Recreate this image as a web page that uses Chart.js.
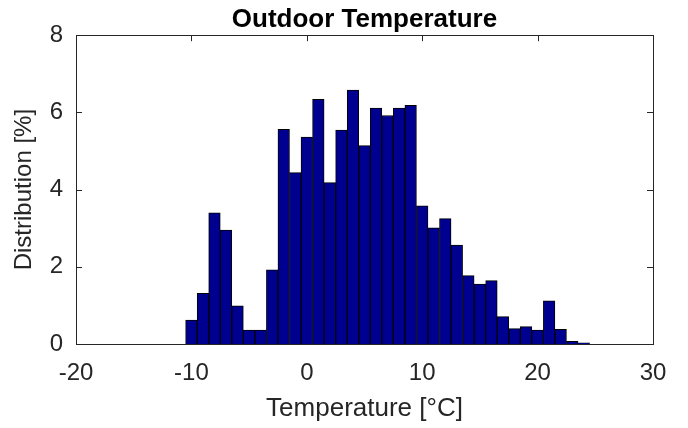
<!DOCTYPE html>
<html>
<head>
<meta charset="utf-8">
<script src="https://cdn.jsdelivr.net/npm/chart.js@4"></script>
<style>
  html, body { margin: 0; padding: 0; background: #fff; }
  #wrap { width: 688px; height: 428px; }
</style>
</head>
<body>
<div id="wrap"><canvas id="histChart" width="688" height="428"></canvas></div>
<script>
// Hourly outdoor temperature histogram, 1 °C bins
var binCenters = [-10, -9, -8, -7, -6, -5, -4, -3, -2, -1, 0, 1, 2, 3, 4, 5, 6, 7, 8, 9,
    10, 11, 12, 13, 14, 15, 16, 17, 18, 19, 20, 21, 22, 23, 24];
var distribution = [0.62, 1.31, 3.40, 2.95, 0.99, 0.36, 0.36, 1.92, 5.56, 4.44, 5.36, 6.34, 4.18, 5.54, 6.58, 5.14, 6.11, 5.92, 6.11, 6.18,
    3.58, 3.01, 3.25, 2.56, 1.77, 1.55, 1.64, 0.71, 0.40, 0.45, 0.36, 1.12, 0.38, 0.07, 0.03];
var xTicks = [-20, -10, 0, 10, 20, 30];
var yTicks = [0, 2, 4, 6, 8];

var axisColor = '#262626';
var fontFamily = '"Liberation Sans", Arial, sans-serif';

// box with inward ticks on all four sides
var boxTicks = {
    id: 'boxTicks',
    beforeDatasetsDraw: function (chart) {
        var ctx = chart.ctx;
        var a = chart.chartArea;
        var xs = chart.scales.x, ys = chart.scales.y;
        var len = 6;
        ctx.save();
        ctx.strokeStyle = axisColor;
        ctx.lineWidth = 1;
        ctx.beginPath();
        xTicks.forEach(function (v) {
            var px = Math.round(xs.getPixelForValue(v)) + 0.5;
            ctx.moveTo(px, a.top);
            ctx.lineTo(px, a.top + len);
            ctx.moveTo(px, a.bottom);
            ctx.lineTo(px, a.bottom - len);
        });
        yTicks.forEach(function (v) {
            var py = Math.round(ys.getPixelForValue(v)) + 0.5;
            ctx.moveTo(a.left, py);
            ctx.lineTo(a.left + len, py);
            ctx.moveTo(a.right, py);
            ctx.lineTo(a.right - len, py);
        });
        ctx.stroke();
        ctx.restore();
    },
    afterDatasetsDraw: function (chart) {
        var ctx = chart.ctx;
        var a = chart.chartArea;
        ctx.save();
        ctx.strokeStyle = axisColor;
        ctx.lineWidth = 1;
        ctx.strokeRect(Math.round(a.left) + 0.5, Math.round(a.top) + 0.5,
            Math.round(a.right - a.left), Math.round(a.bottom - a.top));
        ctx.restore();
    }
};

var points = binCenters.map(function (c, i) {
    return { x: c, y: distribution[i] };
});

new Chart(document.getElementById('histChart').getContext('2d'), {
    type: 'bar',
    data: {
        datasets: [{
            data: points,
            backgroundColor: '#000090',
            borderColor: '#000000',
            borderWidth: 1,
            barPercentage: 1,
            categoryPercentage: 1,
            grouped: false
        }]
    },
    options: {
        responsive: false,
        animation: false,
        layout: { padding: { left: 0, right: 35, top: 0, bottom: 0 } },
        plugins: {
            legend: { display: false },
            tooltip: { enabled: false },
            title: {
                display: true,
                fullSize: false,   // center over the plot box
                text: 'Outdoor Temperature',
                color: '#000',
                font: { family: fontFamily, size: 26, weight: 'bold' },
                padding: { top: 4, bottom: 0 }
            }
        },
        scales: {
            x: {
                type: 'linear',
                offset: false,
                min: -20,
                max: 30,
                afterBuildTicks: function (s) {
                    s.ticks = xTicks.map(function (v) { return { value: v }; });
                },
                afterFit: function (s) { s.height = 84; },
                grid: { display: false, drawTicks: false, offset: false },
                border: { display: false },
                ticks: {
                    color: axisColor,
                    padding: 15,
                    maxRotation: 0,
                    font: { family: fontFamily, size: 24 }
                },
                title: {
                    display: true,
                    text: 'Temperature [°C]',
                    color: axisColor,
                    padding: { top: 4, bottom: 4 },
                    font: { family: fontFamily, size: 26 }
                }
            },
            y: {
                min: 0,
                max: 8,
                afterBuildTicks: function (s) {
                    s.ticks = yTicks.map(function (v) { return { value: v }; });
                },
                afterFit: function (s) { s.width = 76; },
                grid: { display: false, drawTicks: false },
                border: { display: false },
                ticks: {
                    color: axisColor,
                    padding: 13,
                    font: { family: fontFamily, size: 24 }
                },
                title: {
                    display: true,
                    text: 'Distribution [%]',
                    color: axisColor,
                    padding: { top: 10, bottom: 4 },
                    font: { family: fontFamily, size: 24 }
                }
            }
        }
    },
    plugins: [boxTicks]
});
</script>
</body>
</html>
